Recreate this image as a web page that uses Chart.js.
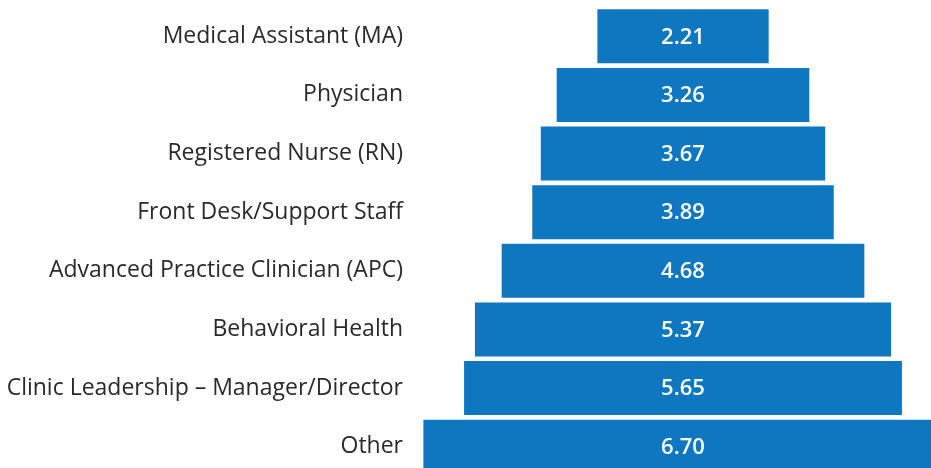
<!DOCTYPE html>
<html>
<head>
<meta charset="utf-8">
<style>
  html, body { margin: 0; padding: 0; background: #fff; overflow: hidden; }
  #wrap { position: relative; width: 931px; height: 476px; }
</style>
</head>
<body>
<div id="wrap"><canvas id="funnel"></canvas></div>
<script src="https://cdn.jsdelivr.net/npm/chart.js"></script>
<script>
  const categories = [
    "Medical Assistant (MA)",
    "Physician",
    "Registered Nurse (RN)",
    "Front Desk/Support Staff",
    "Advanced Practice Clinician (APC)",
    "Behavioral Health",
    "Clinic Leadership \u2013 Manager/Director",
    "Other"
  ];
  const scores = [2.21, 3.26, 3.67, 3.89, 4.68, 5.37, 5.65, 6.70];
  const scoreLabels = ["2.21", "3.26", "3.67", "3.89", "4.68", "5.37", "5.65", "6.70"];

  // funnel: each bar is centred on zero
  const spans = scores.map(v => [-v / 2, v / 2]);

  const barLabels = {
    id: "barLabels",
    afterDatasetsDraw(chart) {
      const { ctx } = chart;
      const meta = chart.getDatasetMeta(0);
      ctx.save();
      ctx.fillStyle = "#ffffff";
      ctx.font = "600 22px 'Open Sans'";
      ctx.textAlign = "center";
      ctx.textBaseline = "middle";
      meta.data.forEach((bar, i) => {
        const x = (bar.x + bar.base) / 2;
        ctx.fillText(scoreLabels[i], x, bar.y + 1);
      });
      ctx.restore();
    }
  };

  new Chart(document.getElementById("funnel"), {
    type: "bar",
    data: {
      labels: categories,
      datasets: [{
        data: spans,
        backgroundColor: "#0f77bf",
        borderWidth: 0,
        borderSkipped: false,
        barPercentage: 1,
        categoryPercentage: 0.921
      }]
    },
    options: {
      indexAxis: "y",
      responsive: true,
      maintainAspectRatio: false,
      animation: false,
      layout: { padding: { top: 7, left: 0, right: 0, bottom: 0 } },
      plugins: {
        legend: { display: false },
        tooltip: { enabled: false }
      },
      scales: {
        x: {
          display: false,
          min: -3.484,
          max: 3.2
        },
        y: {
          grid: { display: false },
          border: { display: false },
          ticks: {
            color: "#2a2a2a",
            font: { family: "Open Sans", size: 23 },
            padding: 2
          },
          afterFit(scale) {
            scale.width = 413;
            scale.paddingTop = 0;
            scale.paddingBottom = 0;
          }
        }
      }
    },
    plugins: [barLabels]
  });
</script>
</body>
</html>
